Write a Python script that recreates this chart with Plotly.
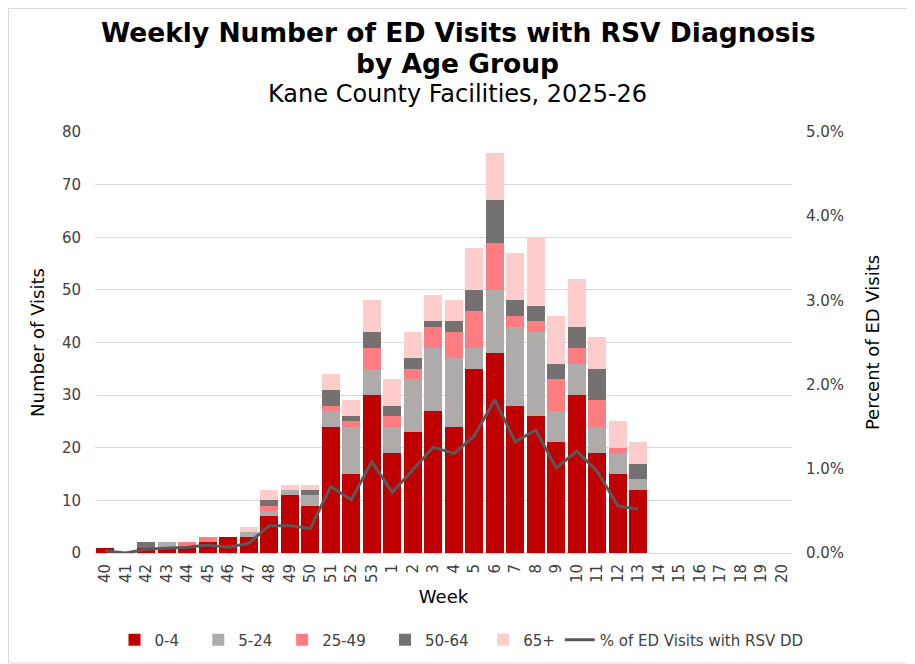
import plotly.graph_objects as go

weeks = ["40", "41", "42", "43", "44", "45", "46", "47", "48", "49", "50", "51", "52", "53",
         "1", "2", "3", "4", "5", "6", "7", "8", "9", "10", "11", "12", "13",
         "14", "15", "16", "17", "18", "19", "20"]

age_0_4 = [1, 0, 1, 1, 1, 2, 3, 3, 7, 11, 9, 24, 15, 30, 19, 23, 27, 24, 35, 38, 28, 26, 21, 30, 19, 15, 12]
age_5_24 = [0, 0, 0, 1, 0, 0, 0, 1, 1, 1, 2, 3, 9, 5, 5, 10, 12, 13, 4, 12, 15, 16, 6, 6, 5, 4, 2]
age_25_49 = [0, 0, 0, 0, 1, 1, 0, 0, 1, 0, 0, 1, 1, 4, 2, 2, 4, 5, 7, 9, 2, 2, 6, 3, 5, 1, 0]
age_50_64 = [0, 0, 1, 0, 0, 0, 0, 0, 1, 0, 1, 3, 1, 3, 2, 2, 1, 2, 4, 8, 3, 3, 3, 4, 6, 0, 3]
age_65p = [0, 0, 0, 0, 0, 0, 0, 1, 2, 1, 1, 3, 3, 6, 5, 5, 5, 4, 8, 9, 9, 13, 9, 9, 6, 5, 4]
pct_rsv = [0.00024, 0.0, 0.00044, 0.00056, 0.00068, 0.00095, 0.00068, 0.00115, 0.00325, 0.00325,
           0.0029, 0.0079, 0.0063, 0.01085, 0.0072, 0.00985, 0.0126, 0.0118, 0.0139, 0.0182,
           0.0132, 0.0146, 0.0101, 0.0121, 0.0097, 0.0056, 0.0052]

series = [
    ("0-4", age_0_4, "#C00000"),
    ("5-24", age_5_24, "#AFABAB"),
    ("25-49", age_25_49, "#FF7C80"),
    ("50-64", age_50_64, "#767171"),
    ("65+", age_65p, "#FFCCCC"),
]
legend_pad = {"0-4": "\u00a0\u00a0\u00a0", "5-24": "\u00a0", "25-49": "\u00a0\u00a0\u00a0",
              "50-64": "\u00a0\u00a0", "65+": ""}

FONT = "DejaVu Sans"
TICKCOL = "#404040"
fig = go.Figure()
n = len(age_0_4)
for name, vals, col in series:
    fig.add_trace(go.Bar(x=weeks[:n], y=vals, name=name + legend_pad[name], marker_color=col,
                         marker_line_width=0, hovertemplate=name + ": %{y}<extra></extra>"))
fig.add_trace(go.Scatter(x=weeks[:n], y=pct_rsv, name="% of ED Visits with RSV DD",
                         mode="lines", line=dict(color="#595959", width=3),
                         yaxis="y2"))

# page has an 8px body margin; figure coordinates = screen - 8
OFF = 8
W, H = 915 - OFF, 664 - OFF
ml, mt = 95 - OFF, 132 - OFF
mr, mb = W - (792 - OFF), H - (553 - OFF)
pw, ph = W - ml - mr, H - mt - mb

fig.update_layout(
    width=W, height=H,
    margin=dict(l=ml, r=mr, t=mt, b=mb, autoexpand=False),
    paper_bgcolor="white", plot_bgcolor="white",
    barmode="stack", bargap=0.14,
    font=dict(family=FONT, color="#000000", size=14),
    showlegend=True,
    legend=dict(orientation="h", x=0.5, xref="container", xanchor="center",
                y=(H - (640 - OFF)) / H, yref="container", yanchor="middle",
                bgcolor="rgba(0,0,0,0)",
                font=dict(size=15, family=FONT, color=TICKCOL), traceorder="normal"),
    xaxis=dict(type="category", categoryorder="array", categoryarray=weeks,
               range=[-0.5, len(weeks) - 0.5],
               tickangle=-90, tickfont=dict(size=15, family=FONT, color=TICKCOL),
               showline=True, linecolor="#D9D9D9", linewidth=1,
               ticks="", showgrid=False, ticklabelstandoff=4,
               title=dict(text="Week", font=dict(size=18, family=FONT), standoff=8)),
    yaxis=dict(range=[0, 80], dtick=10, showgrid=True, gridcolor="#D9D9D9", gridwidth=1,
               zeroline=False, tickfont=dict(size=15, family=FONT, color=TICKCOL), ticks="",
               ticklabelstandoff=13,
               title=dict(text="Number of Visits", font=dict(size=18, family=FONT), standoff=12)),
    yaxis2=dict(range=[0, 0.05], dtick=0.01, tickformat=".1%", overlaying="y", side="right",
                showgrid=False, zeroline=False, tickfont=dict(size=15, family=FONT, color=TICKCOL),
                ticks="", ticklabelstandoff=13,
                title=dict(text="Percent of ED Visits", font=dict(size=18, family=FONT), standoff=23)),
)

def py(s):
    return 1 - ((s - OFF) - mt) / ph

def px(s):
    return ((s - OFF) - ml) / pw

fig.add_annotation(text="<b>Weekly Number of ED Visits with RSV Diagnosis</b>",
                   xref="paper", yref="paper", x=px(458), y=py(32), showarrow=False,
                   xanchor="center", yanchor="middle", font=dict(size=26.5, family=FONT))
fig.add_annotation(text="<b>by Age Group</b>",
                   xref="paper", yref="paper", x=px(458), y=py(63), showarrow=False,
                   xanchor="center", yanchor="middle", font=dict(size=26.5, family=FONT))
fig.add_annotation(text="Kane County Facilities, 2025-26",
                   xref="paper", yref="paper", x=px(458), y=py(94), showarrow=False,
                   xanchor="center", yanchor="middle", font=dict(size=24, family=FONT))

fig.add_shape(type="rect", xref="paper", yref="paper",
              x0=px(OFF + 0.5), x1=px(914), y0=py(663), y1=py(OFF + 0.5),
              line=dict(color="#D9D9D9", width=1), fillcolor="rgba(0,0,0,0)", layer="below")

fig.write_html("out.html")
